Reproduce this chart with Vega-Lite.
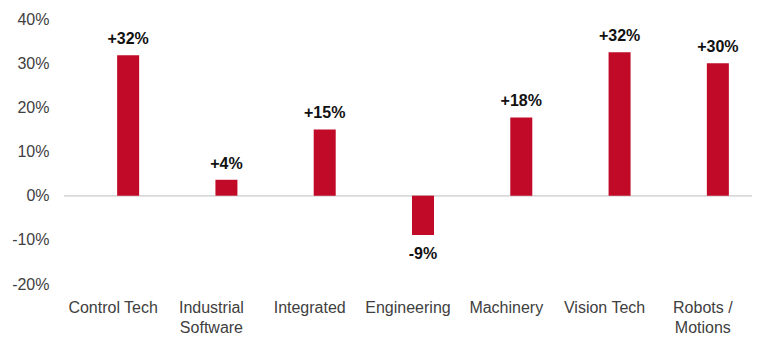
{
  "$schema": "https://vega.github.io/schema/vega-lite/v6.json",
  "width": 688,
  "height": 265,
  "autosize": {"type": "none"},
  "padding": {"left": 64, "top": 19, "right": 19, "bottom": 64},
  "background": "white",
  "config": {
    "view": {"stroke": null},
    "font": "Liberation Sans",
    "axis": {"labelFont": "Liberation Sans", "labelFontSize": 16, "labelColor": "#404040", "grid": false, "domain": false, "ticks": false, "title": null}
  },
  "data": {
    "values": [
      {"category": "Control Tech", "value": 0.318, "label": "+32%"},
      {"category": "Industrial Software", "value": 0.036, "label": "+4%"},
      {"category": "Integrated", "value": 0.15, "label": "+15%"},
      {"category": "Engineering", "value": -0.089, "label": "-9%"},
      {"category": "Machinery", "value": 0.177, "label": "+18%"},
      {"category": "Vision Tech", "value": 0.325, "label": "+32%"},
      {"category": "Robots / Motions", "value": 0.30, "label": "+30%"}
    ]
  },
  "encoding": {
    "x": {
      "field": "category", "type": "nominal", "sort": null,
      "scale": {"paddingInner": 0, "paddingOuter": 0},
      "axis": {"labelAngle": 0, "labelPadding": 15, "labelLineHeight": 20, "labelBaseline": "top",
        "labelExpr": "datum.label == 'Industrial Software' ? ['Industrial', 'Software'] : datum.label == 'Robots / Motions' ? ['Robots /', 'Motions'] : datum.label"}
    },
    "y": {
      "field": "value", "type": "quantitative",
      "scale": {"domain": [-0.2, 0.4], "nice": false, "zero": false},
      "axis": {"values": [-0.2, -0.1, 0, 0.1, 0.2, 0.3, 0.4], "format": ".0%", "labelPadding": 15,
        "labelExpr": "replace(datum.label, '\u2212', '-')"}
    }
  },
  "layer": [
    {
      "mark": {"type": "rule", "color": "#d9d9d9", "strokeWidth": 1},
      "encoding": {"x": null, "y": {"datum": 0, "type": "quantitative"}}
    },
    {
      "mark": {"type": "bar", "color": "#c00a27", "size": 22, "xOffset": 15},
      "encoding": {"y2": {"datum": 0}}
    },
    {
      "transform": [{"filter": "datum.value >= 0"}],
      "mark": {"type": "text", "xOffset": 15, "baseline": "alphabetic", "dy": -11, "fontSize": 16, "fontWeight": "bold", "color": "#111111"},
      "encoding": {"text": {"field": "label"}}
    },
    {
      "transform": [{"filter": "datum.value < 0"}],
      "mark": {"type": "text", "xOffset": 15, "baseline": "top", "dy": 11, "fontSize": 16, "fontWeight": "bold", "color": "#111111"},
      "encoding": {"text": {"field": "label"}}
    }
  ]
}
